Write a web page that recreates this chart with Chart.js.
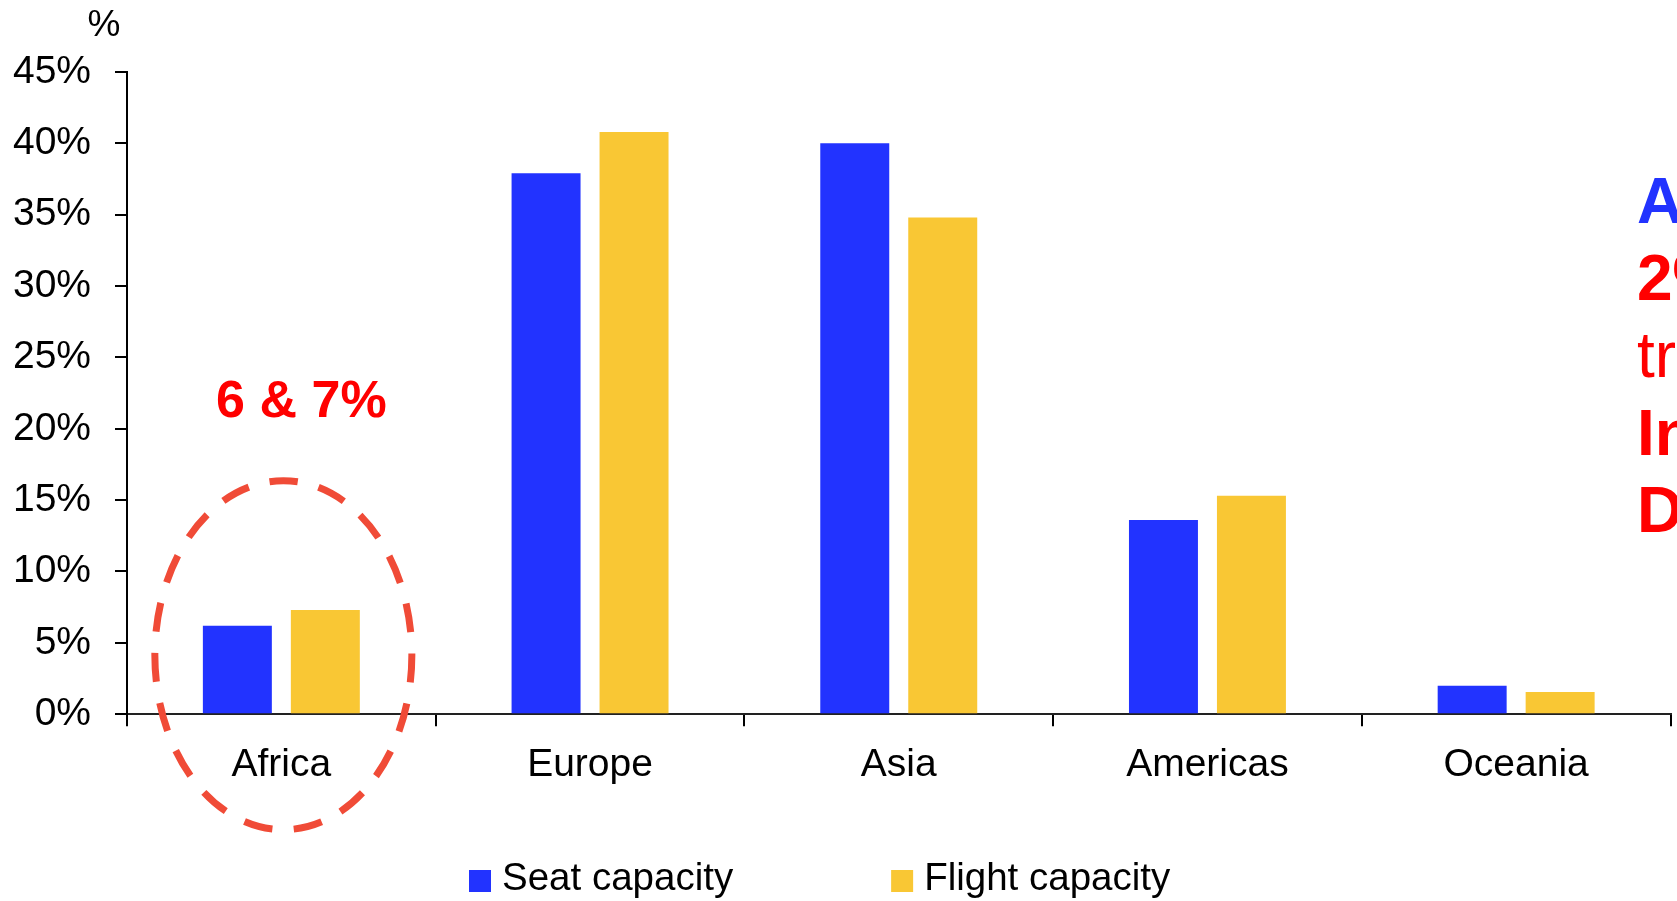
<!DOCTYPE html>
<html>
<head>
<meta charset="utf-8">
<script src="https://cdn.jsdelivr.net/npm/chart.js@4.4.1/dist/chart.umd.min.js"></script>
<style>
  html, body { margin:0; padding:0; background:#fff; overflow:hidden; }
  #wrap { width:1677px; height:901px; }
</style>
</head>
<body>
<div id="wrap"><canvas id="chart" width="1677" height="901"></canvas></div>
<script>
// Data
const regions        = ['Africa', 'Europe', 'Asia', 'Americas', 'Oceania'];
const seatCapacity   = [6.2, 37.9, 40.0, 13.6, 2.0];
const flightCapacity = [7.3, 40.8, 34.8, 15.3, 1.55];
const seriesNames    = ['Seat capacity', 'Flight capacity'];
const yMax = 45, yStep = 5;
const calloutText = '6 & 7%';
const sideNotes = ['Africa', '2%', 'traffic', 'Intra-Africa', 'Domestic'];

const BLUE = '#2233ff', YELLOW = '#f9c734', RED = '#ff0000', RING = '#f04b37';
const FONT = "'Liberation Sans', Arial, sans-serif";

// Decorations: y title, dashed ring round Africa, callout, side notes, legend
const decor = {
  id: 'decor',
  afterDraw(chart) {
    const { ctx, chartArea: { left, bottom }, scales: { x } } = chart;
    const cx = x.getPixelForValue(0);
    ctx.save();

    ctx.fillStyle = '#000';
    ctx.font = `37px ${FONT}`;
    ctx.textAlign = 'center'; ctx.textBaseline = 'alphabetic';
    ctx.fillText('%', left - 23, 36);

    // dashed ring
    ctx.strokeStyle = RING; ctx.lineWidth = 7;
    ctx.setLineDash([29, 21.4]); ctx.lineDashOffset = 14.5;
    ctx.beginPath();
    ctx.ellipse(cx + 2, bottom - 59, 128.5, 174.5, 0, -Math.PI / 2, Math.PI * 1.5);
    ctx.stroke();
    ctx.setLineDash([]);

    ctx.fillStyle = RED;
    ctx.font = `bold 52px ${FONT}`;
    ctx.fillText(calloutText, cx + 20, 417);

    // side notes (run off the right edge)
    ctx.textAlign = 'left';
    sideNotes.forEach((t, i) => {
      ctx.fillStyle = i === 0 ? BLUE : RED;
      ctx.font = `${i === 2 ? '' : 'bold '}64px ${FONT}`;
      ctx.fillText(t, 1637, 223 + i * 77.2);
    });

    // legend
    ctx.font = `38.5px ${FONT}`;
    let lx = left + 342;
    chart.data.datasets.forEach(ds => {
      ctx.fillStyle = ds.backgroundColor;
      ctx.fillRect(lx, 870, 22, 22);
      ctx.fillStyle = '#000';
      ctx.fillText(ds.label, lx + 33, 890);
      lx += 33 + ctx.measureText(ds.label).width + 158;
    });
    ctx.restore();
  }
};

new Chart(document.getElementById('chart'), {
  type: 'bar',
  data: {
    labels: regions,
    datasets: [
      { label: seriesNames[0], data: seatCapacity,   backgroundColor: BLUE },
      { label: seriesNames[1], data: flightCapacity, backgroundColor: YELLOW }
    ]
  },
  options: {
    responsive: false,
    animation: false,
    categoryPercentage: 0.57,
    barPercentage: 0.784,
    layout: { padding: { left: 0, right: 6.5, top: 72, bottom: 96 } },
    plugins: { legend: { display: false }, tooltip: { enabled: false } },
    scales: {
      x: {
        grid: { offset: true, drawOnChartArea: false, drawTicks: true, tickLength: 12, color: '#000', lineWidth: 2 },
        border: { display: true, color: '#222', width: 2 },
        ticks: { color: '#000', padding: 16, font: { family: FONT, size: 39 } }
      },
      y: {
        min: 0, max: yMax,
        afterFit: s => { s.width = 127; },
        grid: { drawOnChartArea: false, drawTicks: true, tickLength: 12, color: '#000', lineWidth: 2 },
        border: { display: true, color: '#000', width: 2 },
        ticks: { stepSize: yStep, color: '#000', padding: 24, font: { family: FONT, size: 39 },
                 callback: v => v + '%' }
      }
    }
  },
  plugins: [decor]
});
</script>
</body>
</html>
